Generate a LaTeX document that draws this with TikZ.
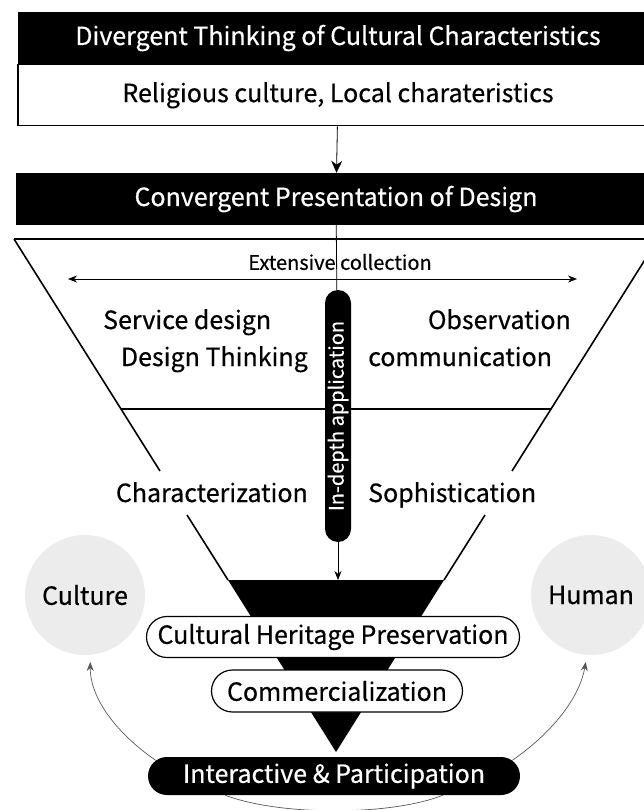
\documentclass[tikz,border=0pt]{standalone}
\usepackage{fontspec}
\setmainfont{Noto Sans CJK KR}[FakeBold=0.5]
\usepackage{tikz}
\usetikzlibrary{shapes.misc, arrows.meta, positioning}
\tikzset{
    bar/.style={rectangle, fill=black, text=white, minimum width=640pt, minimum height=52pt, inner sep=0pt, font=\fontsize{25}{28}\selectfont},
    subbox/.style={rectangle, draw, line width=1.2pt, minimum width=640pt, minimum height=61pt, inner sep=0pt, font=\fontsize{25}{28}\selectfont},
    funnel/.style={line width=1.6pt},
    label/.style={inner sep=0pt, font=\fontsize{25}{28}\selectfont},
    pill/.style={rounded rectangle, draw, line width=1.2pt, fill=white, inner sep=0pt, font=\fontsize{25}{28}\selectfont},
    darkpill/.style={rounded rectangle, fill=black, text=white, inner sep=0pt, font=\fontsize{25}{28}\selectfont},
    vpill/.style={rounded rectangle, fill=black, text=white, rotate=90, inner sep=0pt, minimum width=252pt, minimum height=26pt, font=\fontsize{20}{22}\selectfont},
    circ/.style={circle, fill=gray!15, minimum size=120pt, inner sep=0pt, font=\fontsize{25}{28}\selectfont},
    flow/.style={-{Stealth[length=12pt, width=11pt]}, line width=0.8pt},
    loop/.style={-{Stealth[length=9pt, width=7pt]}, line width=0.7pt, gray!70!black}
}

\begin{document}
\begin{tikzpicture}[x=1pt, y=-1pt]
    \useasboundingbox (0,0) rectangle (644,810);
    \clip (0,0) rectangle (644,810);

    % Divergent part
    \node[bar] (div) at (338,38) {Divergent Thinking of Cultural Characteristics};
    \node[subbox, below=0pt of div] (rel) {Religious culture, Local charateristics};

    % Convergent part
    \node[bar] (conv) at (336,199) {Convergent Presentation of Design};
    \draw[flow] (rel) -- (conv);

    % Funnel
    \draw[funnel] (14,239) -- (658,239);
    \draw[funnel] (14,239) -- (160,471);
    \draw[funnel] (187,515) -- (228,580);
    \draw[funnel] (658,239) -- (512,471);
    \draw[funnel] (485,515) -- (444,580);
    \draw[funnel] (121,409) -- (551,409);
    \fill (228,580) -- (444,580) -- (336,752) -- cycle;

    % Collection
    \node[inner sep=0pt, font=\fontsize{20}{22}\selectfont] (ext) at (340,262) {Extensive collection};
    \coordinate (extL) at (68,279);
    \coordinate (extR) at (577,279);
    \draw[{Stealth[length=9pt, width=7pt]}-{Stealth[length=9pt, width=7pt]}, line width=0.7pt] (extL) -- (extR);

    % Application
    \node[vpill] (app) at (338,416) {In-depth application};
    \coordinate (funtop) at (338,580);
    \draw[line width=0.8pt] (conv) -- (app);
    \draw[-{Stealth[length=9pt, width=7pt]}, line width=0.7pt] (app) -- (funtop);

    % Design labels
    \node[label, anchor=base west] (serv) at (103,329) {Service design};
    \node[label, anchor=base east] (think) at (308,366) {Design Thinking};
    \node[label, anchor=base east] (obs) at (571,329) {Observation};
    \node[label, anchor=base west] (comm) at (368,366) {communication};
    \node[label, anchor=base east] (char) at (308,502) {Characterization};
    \node[label, anchor=base west] (soph) at (368,502) {Sophistication};

    % Culture and human
    \node[circ] (cul) at (85,595) {Culture};
    \node[circ] (hum) at (591,595) {Human};

    % Outcomes
    \node[pill, minimum width=373pt, minimum height=41pt] (chp) at (333,637) {Cultural Heritage Preservation};
    \node[pill, minimum width=251pt, minimum height=42pt] (com) at (337,691) {Commercialization};
    \node[darkpill, minimum width=372pt, minimum height=38pt] (inter) at (334,776) {Interactive \& Participation};

    % Loops
    \draw[loop] (inter.175) .. controls (112,730) and (90,695) .. ([yshift=-7pt]cul.275);
    \draw[loop] (inter.5) .. controls (556,730) and (580,695) .. ([yshift=-7pt]hum.265);
    \draw[line width=0.7pt, gray!70!black] (inter.190) .. controls (280,816) and (390,816) .. (inter.-10);
\end{tikzpicture}
\end{document}
